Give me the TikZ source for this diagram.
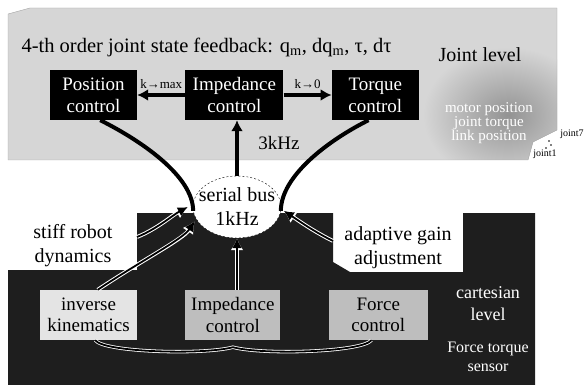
\documentclass[tikz,border=0pt]{standalone}
\usepackage{fontspec}
\setmainfont{Liberation Serif}
\usetikzlibrary{arrows.meta,positioning,shapes.geometric}
\definecolor{PanelGray}{HTML}{D6D6D6}
\definecolor{DeepGray}{HTML}{1E1E1E}
\definecolor{BoxGray}{HTML}{BEBEBE}
\definecolor{PaleGray}{HTML}{E4E4E4}

\begin{document}
\begin{tikzpicture}[x=1pt,y=-1pt,node distance=48pt,>={Latex[length=11pt,width=12pt]}]
    \tikzset{
      jointbox/.style={fill=black,text=white,minimum width=87pt,minimum height=50pt,
        align=center,inner sep=0pt,font=\fontsize{19}{22}\selectfont},
      cartbox/.style={fill=BoxGray,minimum width=96pt,minimum height=50pt,
        align=center,inner sep=0pt,font=\fontsize{19}{21}\selectfont},
      bigtxt/.style={align=center,inner sep=0pt,font=\fontsize{20}{24}\selectfont},
      gaintxt/.style={font=\fontsize{13}{13}\selectfont},
      hollow/.style={line width=1.8pt,-{Latex[length=10pt,width=10pt]},
        preaction={draw=white,line width=3.8pt,-{Latex[length=12pt,width=13pt]}}}
    }
    \useasboundingbox (0,0) rectangle (584,385);
    % joint level panel
    \begin{scope}
      \clip (8,160) -- (8,14) -- (30,8) -- (557,8) -- (557,130) -- (533,142) -- (528,160) -- cycle;
      \fill[PanelGray] (0,0) rectangle (584,200);
      \shade[inner color=gray!85,outer color=PanelGray] (508,115) ellipse (85 and 68);
    \end{scope}
    \draw[gray!70,thin] (8,160) -- (8,14) -- (30,8) -- (557,8) -- (557,130) -- (533,142) -- (528,160) -- cycle;
    % cartesian level
    \fill[DeepGray] (8,385) -- (8,270) -- (137,270) -- (137,213) -- (333,213) -- (333,262)
      -- (350,272) -- (463,272) -- (463,213) -- (535,213) -- (535,385) -- cycle;

    \node[anchor=west,font=\fontsize{20.5}{24}\selectfont] (title) at (18,47)
      {4-th order joint state feedback: q\textsubscript{m}, dq\textsubscript{m}, τ, dτ};
    \node[font=\fontsize{20}{24}\selectfont] (jlevel) at (480,55) {Joint level};
    \node[jointbox] (pos) at (93.5,95) {Position\\control};
    \node[jointbox,minimum width=98pt,right=of pos] (impj) {Impedance\\control};
    \node[jointbox,right=of impj] (torq) {Torque\\control};
    \node[align=center,text=white,font=\fontsize{15}{13}\selectfont] (sens) at (489,123)
      {motor position\\joint torque\\link position};
    \node[font=\fontsize{10}{10}\selectfont] (j7) at (572,134) {joint7};
    \node[font=\fontsize{10}{10}\selectfont] (j1) at (545,154) {joint1};
    \fill (549,141) circle (0.9) (551,145) circle (0.9) (546,148) circle (0.9);
    \node[font=\fontsize{19}{22}\selectfont] (fast) at (279,143) {3kHz};

    \node[ellipse,fill=white,draw=black,thin,dash pattern=on 2pt off 2pt,minimum width=88pt,
      minimum height=62pt,inner sep=0pt] (bus) at (237,207) {};
    \node[bigtxt] (bustxt) at (bus) {serial bus\\1kHz};

    \node[bigtxt] (stiff) at (73,246) {stiff robot\\dynamics};
    \node[bigtxt] (adapt) at (398,248) {adaptive gain\\adjustment};
    \node[cartbox,fill=PaleGray,minimum width=97pt] (ikin) at (88.5,315) {inverse\\kinematics};
    \node[cartbox,minimum width=95pt,right=of ikin] (impc) {Impedance\\control};
    \node[cartbox,minimum width=99pt,right=of impc] (force) {Force\\control};
    \node[align=center,text=white,font=\fontsize{18}{22}\selectfont] (cart) at (488,304) {cartesian\\level};
    \node[align=center,text=white,font=\fontsize{16}{19}\selectfont] (fts) at (488,357) {Force torque\\sensor};
    \coordinate (stiffTail) at (137,237);
    \coordinate (adaptTail) at (333,241);

    \draw[->,line width=4pt] (impj) -- node[above=1pt,gaintxt]{k→max} (pos);
    \draw[->,line width=4pt] (impj) -- node[above=1pt,gaintxt]{k→0} (torq);
    \draw[->,line width=4pt] (bus.north) -- (bus.north |- impj.south);

    \draw[hollow] (stiffTail) .. controls +(20,-8) and +(-15,8) .. ([xshift=-5pt]bus.180);
    \draw[hollow] (ikin.70) .. controls +(45,-30) and +(-12,18) .. ([xshift=-3pt]bus.200);
    \draw[hollow] (impc.north -| bus.south) -- (bus.south);
    \draw[hollow] (adaptTail) .. controls +(-20,-10) and +(15,10) .. ([xshift=3pt]bus.-5);
    \draw[draw=white,double=black,double distance=1.8pt,line width=0.8pt] (ikin.-75)
      .. controls +(8,12) and +(-30,8) .. ([yshift=-7pt]impc.south)
      .. controls +(30,8) and +(-10,12) .. (force.-105);

    \draw[line width=4pt] (pos.-75) .. controls +(40,20) and +(0,-35) .. (bus.185);
    \draw[line width=4pt] (torq.-105) .. controls +(-40,20) and +(0,-35) .. (bus.-5);
  \end{tikzpicture}
\end{document}
